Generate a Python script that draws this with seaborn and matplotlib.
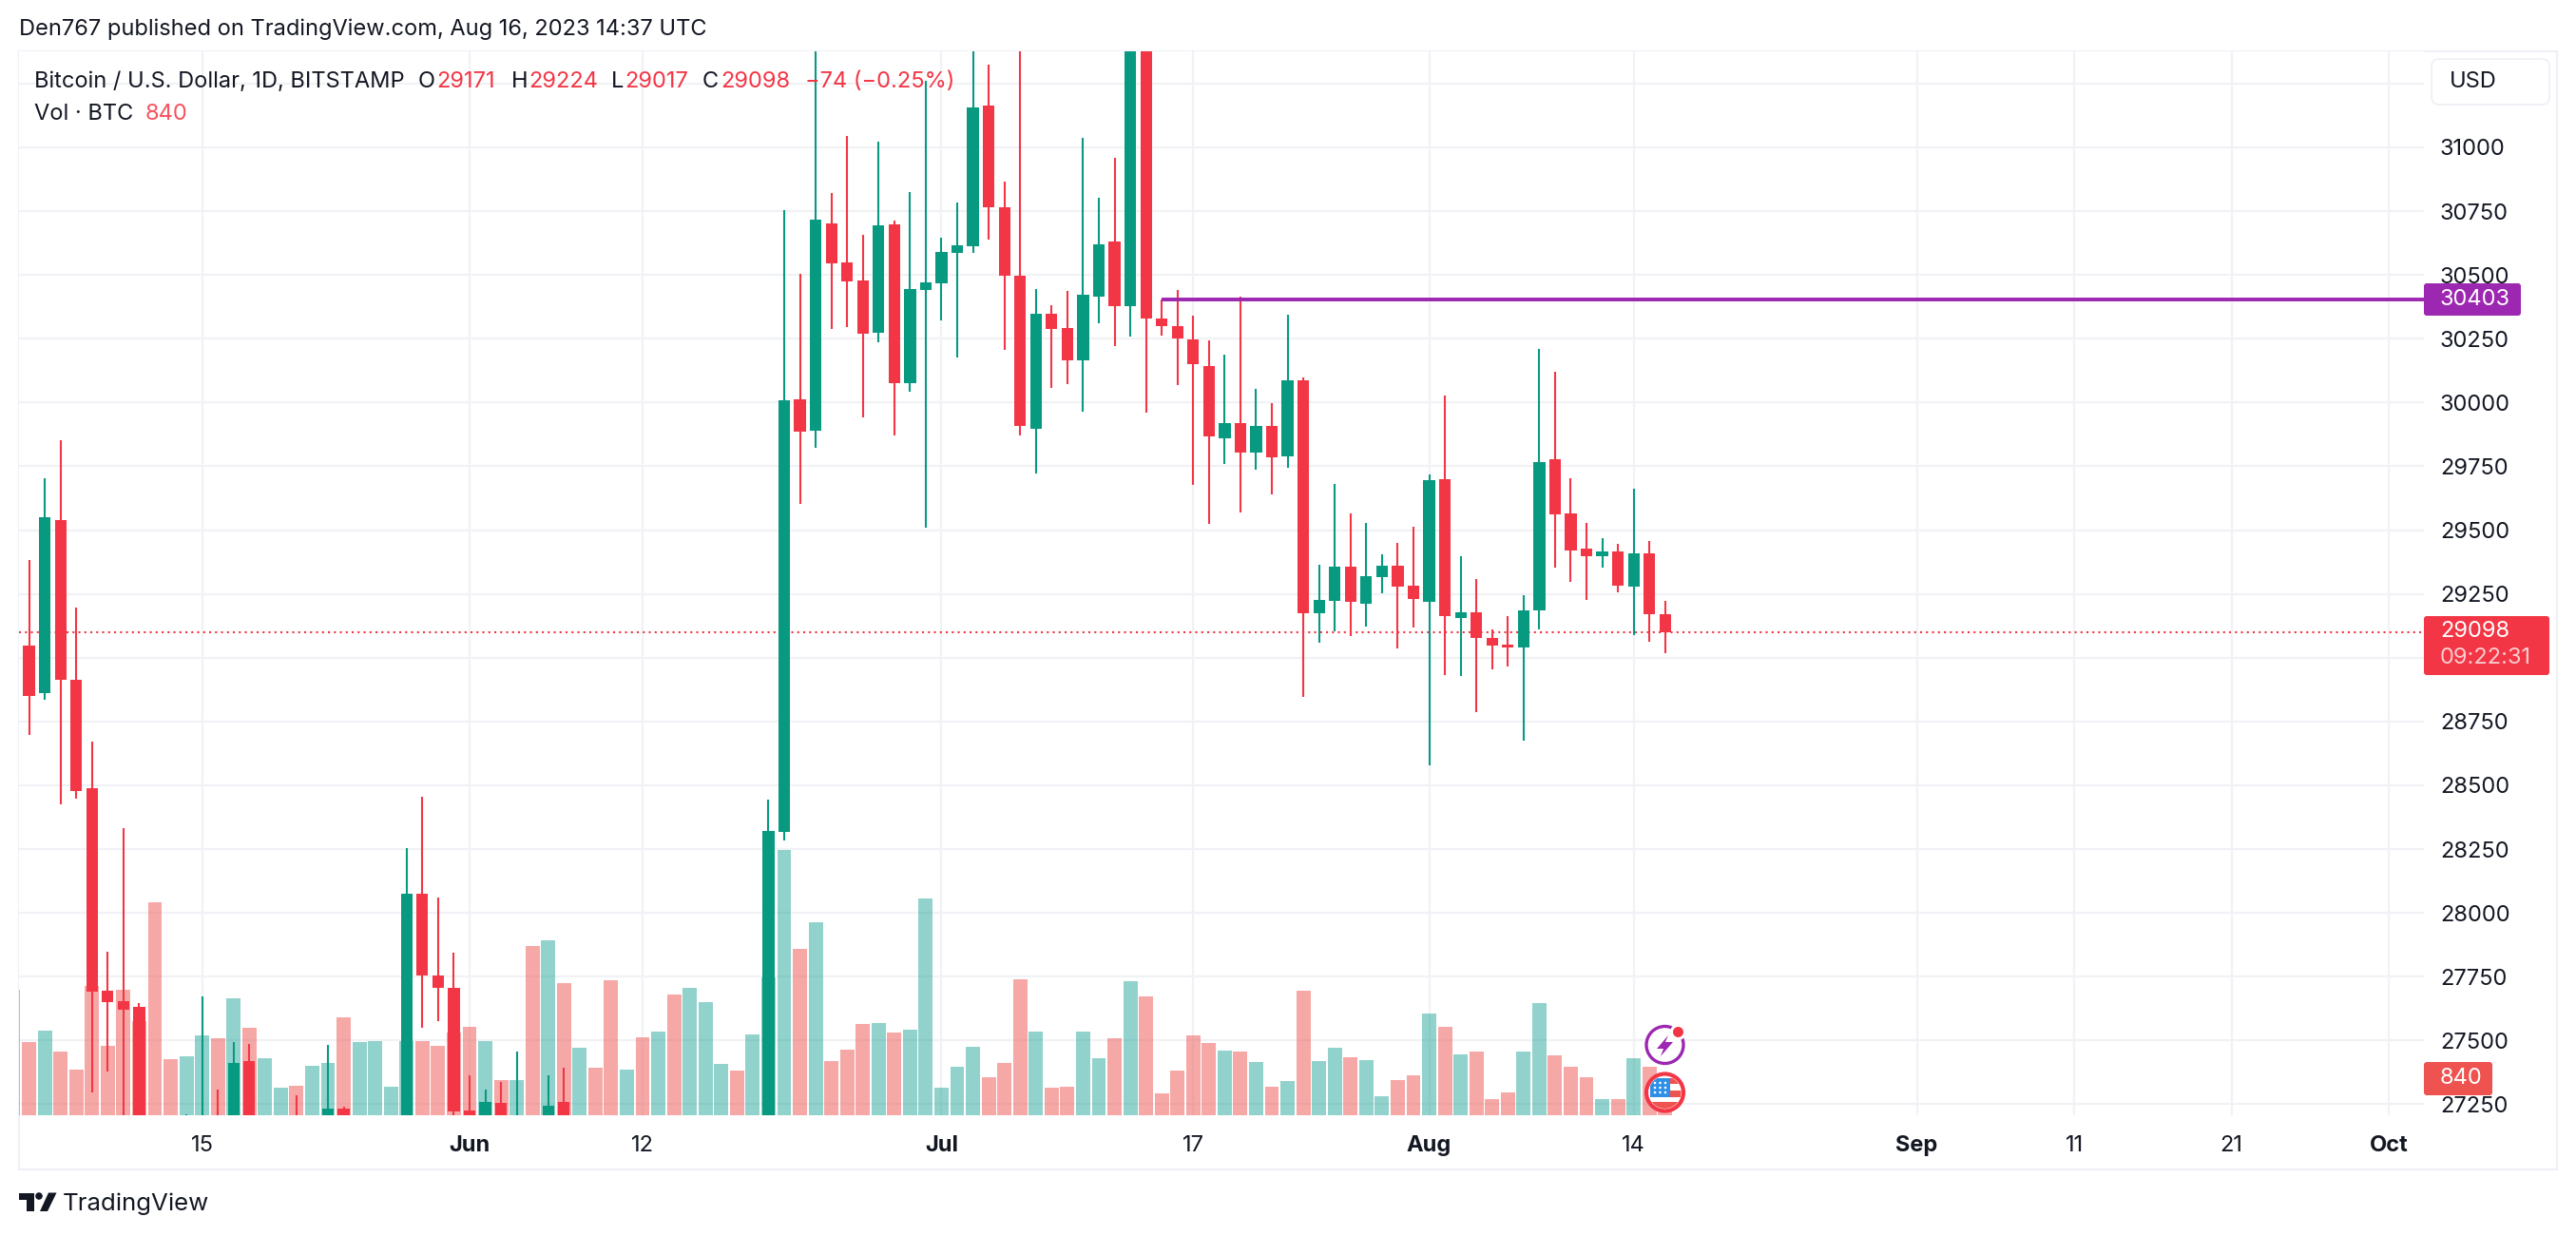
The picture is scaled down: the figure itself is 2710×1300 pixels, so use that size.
"""BTC/USD daily candles with volume, TradingView style."""

import matplotlib
matplotlib.use("Agg")
import matplotlib.pyplot as plt
from matplotlib.patches import Circle, FancyBboxPatch, Polygon, Rectangle
from matplotlib.transforms import Affine2D
import numpy as np
import pandas as pd
import seaborn as sns

# ---------------------------------------------------------------------------
# Data (3 May .. 16 Aug 2023)
# ---------------------------------------------------------------------------

opens = [
    28670, 29048, 28861, 29539, 28914, 28489, 27695, 27654, 27632, 26990, 26810, 26790, 26930, 27170, 27030,
    27420, 26820, 26890, 27110, 26750, 26850, 27233, 26330, 26480, 26720, 26860, 28075, 27755, 27706,
    27226, 26820, 27256, 27070, 27120, 25730, 27259, 26350, 26500, 26480, 25850, 25930, 25900, 25920, 25130,
    25590, 26340, 26510, 26340, 26840, 28317, 30013, 29890, 30702, 30549, 30478, 30273, 30698, 30076, 30441,
    30467, 30586, 30613, 31164, 30765, 30497, 29897, 30348, 30292, 30165, 30415, 30631, 30378, 31420, 30329,
    30300, 30247, 30143, 29860, 29920, 29804, 29908, 29789, 30087, 29174, 29223, 29357, 29212, 29316, 29361, 29282,
    29219, 29700, 29156, 29178, 29077, 29051, 29040, 29186, 29778, 29566, 29428, 29398, 29417, 29279, 29409, 29171,
]
highs = [
    29270, 29381, 29703, 29852, 29197, 28671, 27848, 28332, 27647, 27070, 27030, 27210, 27673, 27308, 27494,
    27487, 27180, 27160, 27285, 27050, 27483, 27240, 26590, 26920, 26920, 28254, 28455, 28060, 27844,
    27364, 27308, 27337, 27457, 27150, 27364, 27393, 26800, 26780, 26530, 26200, 26100, 26420, 26090, 25750,
    26480, 26780, 26690, 27030, 28444, 30754, 30504, 31431, 30821, 31045, 30657, 31022, 30713, 30825, 31261,
    30646, 30784, 31387, 31324, 30866, 31500, 30445, 30382, 30437, 31037, 30803, 30959, 31800, 31630, 30404,
    30439, 30341, 30244, 30188, 30415, 30054, 29998, 30344, 30098, 29364, 29681, 29566, 29528, 29405, 29450, 29513,
    29718, 30028, 29398, 29308, 29111, 29163, 29245, 30210, 30121, 29703, 29528, 29469, 29446, 29662, 29458, 29224,
]
lows = [
    28130, 28696, 28835, 28427, 28448, 27297, 27378, 26800, 26700, 25840, 26700, 26600, 26750, 26850, 26600,
    26650, 26630, 26850, 26650, 26550, 26800, 26100, 25870, 26340, 26560, 26800, 27550, 27576, 26850,
    26600, 26500, 26950, 26960, 25400, 25350, 26120, 26200, 26250, 25350, 25600, 25650, 25720, 24820, 24800,
    25170, 26180, 26280, 26270, 26630, 28284, 29603, 29823, 30288, 30296, 29942, 30236, 29871, 30042, 29510,
    30322, 30177, 30586, 30639, 30206, 29871, 29722, 30057, 30072, 29964, 30311, 30221, 30259, 29960, 30262,
    30069, 29677, 29525, 29759, 29569, 29737, 29640, 29744, 28846, 29059, 29104, 29085, 29122, 29253, 29036, 29118,
    28578, 28932, 28928, 28787, 28955, 28966, 28675, 29111, 29353, 29297, 29227, 29353, 29256, 29089, 29063, 29017,
]
closes = [
    29030, 28851, 29551, 28912, 28478, 27691, 27651, 27621, 26990, 26810, 26790, 26930, 27170, 27030, 27412,
    26820, 26890, 27110, 26750, 26850, 27233, 26330, 26480, 26720, 26860, 28075, 27753, 27708, 27222,
    26820, 27259, 27070, 27120, 25730, 27244, 26350, 26500, 26480, 25850, 25930, 25900, 25920, 25130, 25590,
    26340, 26510, 26340, 26840, 28321, 30009, 29886, 30717, 30545, 30475, 30270, 30694, 30076, 30445, 30471,
    30590, 30616, 31156, 30765, 30497, 29908, 30348, 30288, 30165, 30423, 30620, 30378, 31420, 30329, 30300,
    30251, 30151, 29867, 29920, 29804, 29908, 29785, 30087, 29174, 29227, 29357, 29219, 29320, 29361, 29279, 29230,
    29696, 29163, 29178, 29077, 29048, 29040, 29186, 29767, 29562, 29420, 29398, 29417, 29282, 29409, 29171, 29098,
]
volumes = [
    2872, 1676, 1937, 1458, 1044, 2959, 1588, 2872, 2154, 4874, 1284, 1349, 1828, 1763, 2676,
    2002, 1306, 631, 675, 1132, 1197, 2241, 1676, 1697, 653, 1697, 1697, 1588, 1893,
    2024, 1697, 805, 805, 3873, 4004, 3025, 1545, 1088, 3090, 1044, 1784, 1915, 2764, 2916,
    2589, 1175, 1023, 1850, 3155, 6071, 3808, 4417, 1240, 1501, 2089, 2111, 1893, 1958, 4961,
    631, 1110, 1567, 870, 1197, 3112, 1915, 631, 653, 1915, 1306, 1763, 3068, 2720, 500,
    1023, 1828, 1654, 1480, 1458, 1219, 653, 783, 2851, 1240, 1545, 1327, 1262, 435, 805, 914,
    2328, 2024, 1393, 1458, 370, 522, 1458, 2568, 1371, 1110, 870, 370, 370, 1306, 1110, 840,
]

price_ticks = [27250, 27500, 27750, 28000, 28250, 28500, 28750, 29000, 29250, 29500,
               29750, 30000, 30250, 30500, 30750, 31000, 31250]
# 29000 and 31250 sit behind the tag and the USD button
hidden_price_labels = [29000, 31250]
date_ticks = ["2023-05-15", "2023-06-01", "2023-06-12", "2023-07-01", "2023-07-17",
              "2023-08-01", "2023-08-14", "2023-09-01", "2023-09-11", "2023-09-21", "2023-10-01"]
date_labels = ["15", "Jun", "12", "Jul", "17", "Aug", "14", "Sep", "11", "21", "Oct"]
month_labels = ["Jun", "Jul", "Aug", "Sep", "Oct"]

last_price = 29098
level_price = 30403
level_start = "2023-07-15"

# ---------------------------------------------------------------------------
# Colours and layout
# ---------------------------------------------------------------------------

UP = "#089981"
DOWN = "#F23645"
VOL_UP = "#26A69A"
VOL_DOWN = "#EF5350"
PURPLE = "#9C27B0"
GRID = "#F1F2F6"
INK = "#131722"

W, H = 2710, 1300
PANE_L, PANE_R, PANE_T, PANE_B = 20, 2550, 54, 1173

sns.set_theme(style="white")
plt.rcParams["font.family"] = ["Inter", "DejaVu Sans"]

# pixel coordinates of the reference, y going down
PX = Affine2D().scale(1, -1).translate(0, H)


def day_no(stamp):
    return (pd.Timestamp(stamp) - pd.Timestamp("2023-06-01")).days


def label(x, y, s, size=17, color=INK, ha="left", weight="normal", alpha=1.0):
    fig.text(x, y, s, transform=PX, fontsize=size, color=color, ha=ha, va="center",
             fontweight=weight, alpha=alpha, zorder=8)


def box(x0, y0, x1, y1, color, round_px=3):
    fig.add_artist(FancyBboxPatch((x0, y0), x1 - x0, y1 - y0, boxstyle=f"round,pad=0,rounding_size={round_px}",
                                  facecolor=color, edgecolor="none", transform=PX, zorder=6))


fig = plt.figure(figsize=(W / 100, H / 100), dpi=100, facecolor="white")
rect = [PANE_L / W, 1 - PANE_B / H, (PANE_R - PANE_L) / W, (PANE_B - PANE_T) / H]
ax_bg = fig.add_axes(rect, zorder=1)
ax_vol = fig.add_axes(rect, zorder=2)
ax_price = fig.add_axes(rect, zorder=3)

days = pd.date_range("2023-05-03", "2023-08-16")
df = pd.DataFrame({
    "day": (days - pd.Timestamp("2023-06-01")).days,
    "open": opens, "high": highs, "low": lows, "close": closes, "volume": volumes,
})
df["up"] = df["close"] >= df["open"]

xlim = (-28.64, 124.23)
ylim = (27207, 31376)

# grid and axis labels
ax_bg.set_xlim(xlim)
ax_bg.set_ylim(ylim)
ax_bg.set_yticks(price_ticks)
ax_bg.set_yticklabels(["" if p in hidden_price_labels else str(p) for p in price_ticks], fontsize=17, color=INK)
ax_bg.set_xticks([day_no(d) for d in date_ticks])
ax_bg.set_xticklabels(date_labels, fontsize=17, color=INK)
for tl in ax_bg.get_xticklabels():
    if tl.get_text() in month_labels:
        tl.set_fontweight("bold")
ax_bg.yaxis.tick_right()
ax_bg.tick_params(axis="y", length=0, pad=12.2)
ax_bg.tick_params(axis="x", length=0, pad=15)
ax_bg.grid(True, color=GRID, linewidth=1.6)
sns.despine(ax=ax_bg, left=True, bottom=True)

# volume
sns.barplot(data=df, x="day", y="volume", hue="up", palette={True: VOL_UP, False: VOL_DOWN},
            native_scale=True, dodge=False, width=0.9, alpha=0.5, saturation=1, errorbar=None,
            linewidth=0, legend=False, ax=ax_vol)
ax_vol.set_xlim(xlim)
ax_vol.set_ylim(0, 24350)
ax_vol.set_axis_off()

# candles
candle_colors = np.where(df["up"], UP, DOWN)
ax_price.vlines(df["day"], df["low"], df["high"], colors=candle_colors, linewidth=1.5, zorder=2)
ax_price.bar(df["day"], df["close"] - df["open"], bottom=df["open"], width=0.74,
             color=candle_colors, linewidth=0, zorder=3)
ax_price.axhline(last_price, color=DOWN, linewidth=1.5, linestyle=(0, (1, 2)), zorder=1)
ax_price.hlines(level_price, day_no(level_start), xlim[1], color=PURPLE, linewidth=2.8, zorder=4)
ax_price.set_xlim(xlim)
ax_price.set_ylim(ylim)
ax_price.set_axis_off()

# frame around the chart
fig.add_artist(Rectangle((PANE_L, PANE_T), 2690 - PANE_L, 1230 - PANE_T, fill=False, edgecolor="#EFF1F6",
                         linewidth=1.6, transform=PX, zorder=0.5))

# header and legend
label(20, 31, "Den767 published on TradingView.com, Aug 16, 2023 14:37 UTC")
label(36, 86, "Bitcoin / U.S. Dollar, 1D, BITSTAMP")
for x, s, c in [(440, "O", INK), (459, "29171", DOWN), (538, "H", INK), (556, "29224", DOWN),
                (643, "L", INK), (657, "29017", DOWN), (739, "C", INK), (758, "29098", DOWN),
                (847, "\u221274 (\u22120.25%)", DOWN)]:
    label(x, 86, s, color=c)
label(36, 120, "Vol \u00b7 BTC")
label(153, 120, "840", color="#F7525F")

# price scale tags
fig.add_artist(FancyBboxPatch((2558, 62), 124, 48, boxstyle="round,pad=0,rounding_size=8", facecolor="white",
                              edgecolor="#EFF1F6", linewidth=1.4, transform=PX, zorder=6))
label(2577, 86, "USD")
box(2550, 298, 2652, 332, PURPLE)
label(2567, 315, "30403", color="white")
box(2550, 648, 2682, 710, DOWN)
label(2567, 664, "29098", color="white")
label(2567, 692, "09:22:31", color="white", alpha=0.75)
box(2550, 1117, 2622, 1152, VOL_DOWN)
label(2589, 1134, "840", color="white", ha="center")

# TradingView logo
fig.add_artist(Polygon([(20, 1254.5), (36, 1254.5), (36, 1274), (28, 1274), (28, 1262), (20, 1262)],
                       facecolor=INK, edgecolor="none", transform=PX, zorder=6))
fig.add_artist(Circle((41, 1258), 3.8, facecolor=INK, edgecolor="none", transform=PX, zorder=6))
fig.add_artist(Polygon([(51, 1254.5), (59.5, 1254.5), (50, 1274), (42, 1274)],
                       facecolor=INK, edgecolor="none", transform=PX, zorder=6))
label(66, 1266, "TradingView", size=18.6)

# event icons on the last bar
cx = 1751.5
fig.add_artist(Circle((cx, 1099), 19.5, facecolor="white", edgecolor=PURPLE, linewidth=2.4, transform=PX, zorder=6))
fig.add_artist(Circle((1765.5, 1085.5), 8.5, facecolor="white", edgecolor="none", transform=PX, zorder=6))
fig.add_artist(Circle((1765.5, 1085.5), 5.5, facecolor=DOWN, edgecolor="none", transform=PX, zorder=7))
fig.add_artist(Polygon([(1755, 1089), (1743, 1103), (1750, 1103), (1747, 1111), (1760, 1096), (1752, 1096)],
                       facecolor=PURPLE, edgecolor="none", transform=PX, zorder=7))
fig.add_artist(Circle((cx, 1149), 19.5, facecolor="white", edgecolor=DOWN, linewidth=3, transform=PX, zorder=6))
for x0, y0, w, h, c in [(1757, 1134, 16, 6, VOL_DOWN), (1757, 1146.5, 16, 7, VOL_DOWN),
                        (1733, 1159, 38, 10, VOL_DOWN), (1735.5, 1134, 21.5, 19.5, "#2D8FE8")]:
    patch = Rectangle((x0, y0), w, h, facecolor=c, edgecolor="none", transform=PX, zorder=7)
    fig.add_artist(patch)
    patch.set_clip_path(Circle((cx, 1149), 17, transform=PX))
for sx in (1741, 1746.5, 1752):
    for sy in (1139, 1144, 1149):
        fig.add_artist(Circle((sx, sy), 1.3, facecolor="white", edgecolor="none", transform=PX, zorder=8))

fig.savefig("out.png", dpi=100)
